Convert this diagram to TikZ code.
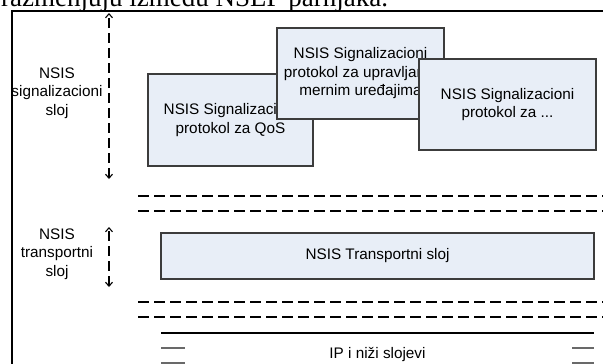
\documentclass[tikz,border=0pt]{standalone}
\usepackage{fontspec}
\setmainfont{Liberation Sans}
\newfontfamily\introserif{Liberation Serif}
\usetikzlibrary{arrows.meta}
\definecolor{layerfill}{RGB}{232, 238, 247}
\definecolor{layerline}{RGB}{60, 60, 60}
\definecolor{ipgray}{RGB}{105, 105, 105}

\tikzset{
  protobox/.style={fill=layerfill, draw=layerline, line width=1.1pt, inner sep=0pt,
                   align=center, font=\fontsize{15.3}{18.5}\selectfont},
  sidelabel/.style={inner sep=0pt, align=center, font=\fontsize{15.3}{18.5}\selectfont},
  sepline/.style={line width=1.7pt, dash pattern=on 11pt off 5pt},
  layerarrow/.style={line width=1.3pt, dash pattern=on 10pt off 5pt,
                     {Straight Barb[length=4pt, width=7pt, line width=1.1pt]}-{Straight Barb[length=4pt, width=7pt, line width=1.1pt]}},
  ipedge/.style={draw=ipgray, line width=1.6pt}
}

\begin{document}
\begin{tikzpicture}[x=1pt, y=-1pt]
  \path[use as bounding box, clip] (0,0) rectangle (603,364);

  % page text above the figure
  \node[anchor=base west, inner sep=0pt, font=\introserif\fontsize{27}{30}\selectfont]
       (intro) at (1,6) {razmenjuju između NSLP parnjaka.};

  % frame
  \draw[line width=1.2pt] (12,370) -- (12,11) -- (610,11);

  % signalizacioni sloj
  \node[protobox, minimum width=165pt, minimum height=92pt] (qos) at (230.5,120)
       {NSIS Signalizacioni\\protokol za QoS};
  \node[protobox, minimum width=167pt, minimum height=91pt] (mernim) at (360.5,73.5)
       {NSIS Signalizacioni\\protokol za upravljanje\\mernim uređajima};
  \node[protobox, minimum width=177pt, minimum height=91pt] (ostali) at (507.5,104.5)
       {NSIS Signalizacioni\\protokol za ...};

  \node[sidelabel] (siglabel) at (57,93) {NSIS\\signalizacioni\\sloj};
  \coordinate (sigtop) at (109,13);
  \coordinate (sigbot) at (109,179);
  \draw[layerarrow] (sigbot) -- (sigtop);

  % separators
  \foreach \y in {196, 211, 302, 317}
    \draw[sepline] (138,\y) -- (610,\y);

  % transportni sloj
  \node[protobox, minimum width=433pt, minimum height=46pt] (transport) at (377.5,256)
       {NSIS Transportni sloj};
  \node[sidelabel] (translabel) at (57,254) {NSIS\\transportni\\sloj};
  \coordinate (transtop) at (109,227);
  \coordinate (transbot) at (109,287);
  \draw[layerarrow] (transbot) -- (transtop);

  % IP i nizi slojevi
  \draw[line width=1.2pt] (161,333) -- (594,333);
  \foreach \y in {348, 363} {
    \draw[ipedge] (161,\y) -- (185,\y);
    \draw[ipedge] (572,\y) -- (594,\y);
  }
  \node[sidelabel] (iplayer) at (377.5,355) {IP i niži slojevi};
\end{tikzpicture}
\end{document}
